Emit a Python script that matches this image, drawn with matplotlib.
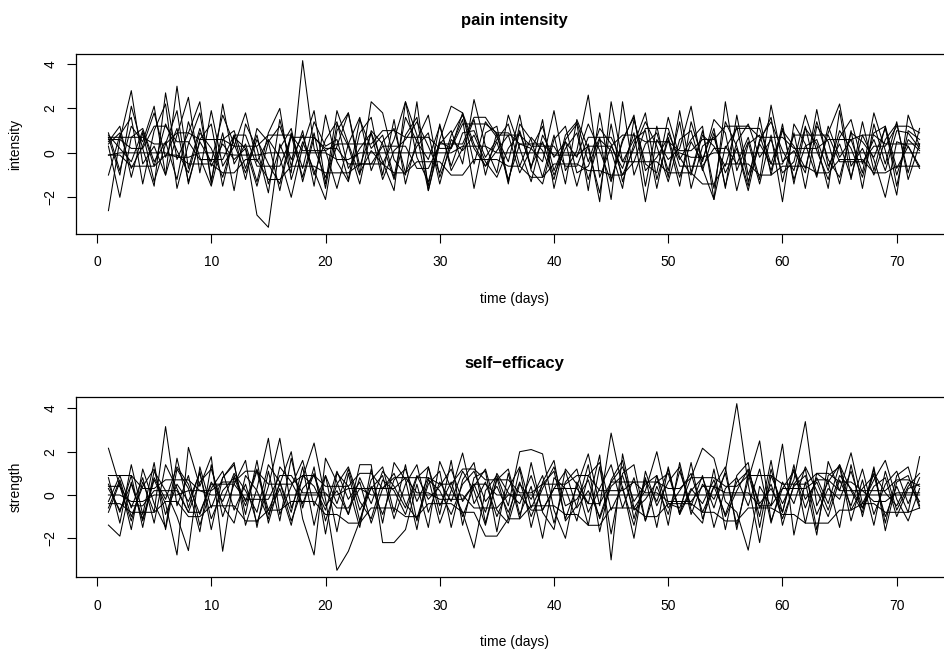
import numpy as np
import matplotlib
matplotlib.use("Agg")
import matplotlib.pyplot as plt

plt.rcParams["font.family"] = ["Liberation Sans", "DejaVu Sans"]

days = np.arange(1, 73)

# daily pain intensity per subject (standardised)
pain = [
    [-2.6, 0.6, 2.8, -0.5, 0.3, -1.0, 3.0, -0.7, 1.1, -0.6, 0.4, -0.3,
     0.2, -2.8, -3.35, 0.4, -0.9, 4.15, 0.2, -1.1, 0.3, 1.8, -0.9, 0.1,
     -0.5, 0.6, 2.3, -0.2, -1.3, 0.5, 0.2, 1.8, 0.4, -0.6, 0.1, 0.8,
     -0.9, 0.2, -0.4, 1.9, -0.8, 0.1, 2.6, -1.1, 0.3, -0.7, 0.9, -2.2,
     0.6, -0.3, 0.2, 2.1, -0.7, -2.1, 0.3, -0.5, 0.7, -1.2, 2.15, -0.4,
     0.1, -0.9, 1.95, -0.6, 0.4, -1.1, 0.8, -0.3, -2.0, 0.5, 0.3, -0.7],
    [0.9, -0.8, 1.2, 0.5, 2.1, -1.0, 0.8, 2.5, -0.9, 1.9, -0.6, 0.3,
     1.8, -0.4, 0.6, -0.2, -2.0, 0.3, 1.9, -1.4, 1.9, 0.4, -1.0, 2.3,
     1.8, -0.3, -1.0, 2.3, -1.7, 0.4, 1.0, -0.5, 2.4, 0.3, -0.9, 1.7,
     0.2, -1.3, 0.8, -0.2, 0.5, -1.5, 0.4, -2.2, 2.3, -0.4, 0.6, 1.0,
     -1.6, 0.9, -0.3, 0.6, 1.2, -2.1, 2.3, -0.8, 0.5, -1.4, 0.8, -2.2,
     1.3, 0.4, -1.1, 1.2, -0.2, 0.6, -0.9, 1.8, 0.1, -1.9, 1.7, 0.3],
    [0.7, -1.0, 2.1, 0.2, -1.5, 2.7, -0.3, 0.9, 2.3, -1.4, 2.2, -0.5,
     0.4, -1.3, 0.9, 2.0, -1.2, 0.5, -0.8, -2.1, 1.0, 1.8, -0.6, 0.9,
     -0.4, -1.7, 2.3, 0.8, -1.7, 0.6, 2.1, 1.8, -0.5, 1.4, 0.7, -0.4,
     1.7, -0.8, -1.4, 0.6, 1.2, -0.9, -0.6, 0.7, -2.1, 2.3, -1.0, 0.4,
     0.9, -0.8, 1.4, -1.6, 0.3, 0.7, -0.9, 0.2, -1.7, 0.6, 1.4, 0.1,
     -0.8, 1.2, -1.0, 0.9, 2.2, -0.6, 0.2, -1.0, 0.6, 1.3, -0.9, 1.1],
    [0.3, -2.0, 0.7, 1.1, -0.4, 0.5, -1.2, 1.4, -0.2, -1.5, 0.6, 1.0,
     -0.7, 0.8, -1.4, 0.2, 1.1, -1.3, 0.7, 0.1, -1.6, 0.4, 1.6, -0.8,
     0.5, 1.1, -0.9, 0.3, 0.9, -1.4, 0.6, 0.1, 0.8, -0.4, -1.1, 0.2,
     0.9, -0.6, 0.5, -1.0, 0.2, 0.9, -1.2, 0.6, 0.1, -1.6, 1.5, -0.5,
     -0.9, 1.6, -0.2, -1.0, 0.8, 0.3, -0.6, 1.2, -1.3, 0.4, -0.5, 1.1,
     -1.2, 0.3, 0.6, -0.8, 1.0, 0.2, -1.1, 0.9, 1.2, -0.7, 0.3, -0.6],
    [0.7, 0.7, 0.7, 0.7, 0.4, 0.4, 0.9, 0.9, 0.6, 0.6, 0.6, 0.3,
     0.3, 0.3, 0.8, 0.8, 0.8, 0.1, 0.1, 0.1, 0.4, 0.4, 0.4, 0.4,
     1.0, 1.0, 0.7, 0.7, 0.7, 0.2, 0.2, 1.3, 1.3, 1.3, 0.9, 0.9,
     0.4, 0.4, 0.4, -0.1, -0.1, -0.1, 0.3, 0.3, 0.3, 0.8, 0.8, 0.5,
     0.5, 0.5, 0.1, 0.1, 0.6, 0.6, 1.2, 1.2, 1.2, 0.7, 0.7, 0.7,
     0.2, 0.2, 0.2, 0.6, 0.6, 0.6, 0.8, 0.8, 0.4, 0.4, 0.4, 0.4],
    [-0.1, -0.1, -0.6, -0.6, -0.6, -0.1, -0.1, -0.5, -0.5, -0.5, -0.9, -0.9,
     -0.3, -0.3, -1.2, -1.2, -0.6, -0.6, -0.6, -0.9, -0.9, -0.9, -0.5, -0.5,
     -0.5, -0.9, -0.9, -0.4, -0.4, -0.4, -1.0, -1.0, -0.3, -0.3, -0.3, -0.6,
     -0.6, -1.1, -1.1, -0.5, -0.5, -0.5, -0.8, -0.8, -1.0, -1.0, -0.4, -0.4,
     -0.4, -0.9, -0.9, -0.9, -1.4, -1.4, -0.5, -0.5, -0.5, -1.0, -1.0, -0.6,
     -0.6, -0.6, -0.9, -0.9, -0.3, -0.3, -0.3, -0.9, -0.9, -0.6, -0.6, -0.6],
    [-0.1, 0.0, 0.0, 0.0, 0.0, 0.0, -0.2, -0.2, 0.0, 0.0, 0.0, -0.1,
     -0.1, -0.1, 0.0, 0.0, 0.0, 0.0, 0.0, 0.0, -0.3, -0.3, 0.0, 0.0,
     0.0, 0.0, 0.0, 0.0, 0.0, 0.0, 0.0, 0.3, 0.3, 0.3, 0.0, 0.0,
     0.0, 0.0, 0.0, 0.0, 0.0, 0.0, 0.0, 0.0, 0.0, 0.0, 0.0, 0.0,
     0.0, 0.0, 0.0, -0.2, -0.2, 0.0, 0.0, 0.0, 0.0, 0.0, 0.0, 0.0,
     0.0, 0.0, 0.0, 0.0, 0.0, 0.0, 0.0, 0.0, 0.0, 0.0, 0.0, 0.0],
    [0.6, 0.6, 0.2, 0.2, 1.2, 1.2, 0.5, 0.5, -0.3, -0.3, -0.3, 0.8,
     0.8, -0.6, -0.6, -0.6, 0.7, 0.7, 0.7, 0.2, 0.2, -0.5, -0.5, -0.5,
     0.3, 0.3, 0.3, -0.7, -0.7, 0.4, 0.4, 0.4, 1.6, 1.6, 0.8, 0.8,
     0.8, 0.3, 0.3, 0.3, -0.6, -0.6, 0.7, 0.7, 0.7, -0.4, -0.4, 1.1,
     1.1, 1.1, -0.6, -0.6, -0.6, 0.2, 0.2, 1.1, 1.1, 1.1, -0.5, -0.5,
     0.8, 0.8, 0.8, 0.8, -0.4, -0.4, -0.4, 0.3, 0.3, 1.2, 1.2, 0.9],
    [0.8, 0.2, -0.4, 1.0, -0.6, 1.3, 0.1, -0.9, 0.9, 0.2, -1.1, 0.7,
     0.2, -1.5, 0.5, 1.2, -0.3, 0.8, -1.0, 0.6, 1.4, -0.7, 0.2, 0.9,
     -1.2, 0.1, 0.6, 1.4, 0.3, -0.9, 0.8, 1.7, 0.2, -0.6, 0.5, -1.2,
     0.4, 0.2, 1.2, -0.8, 0.5, -0.2, 1.3, 0.1, -1.3, 0.6, 1.6, -0.8,
     -0.2, 0.7, -1.1, 0.5, -0.4, 1.5, 0.9, -1.7, 0.4, 0.8, -0.8, 1.0,
     0.3, -0.7, 1.4, -0.3, -1.1, 0.9, 0.5, -0.2, 1.1, -1.0, 0.6, 0.1],
    [0.4, 0.9, -0.7, 0.3, 1.8, -0.2, 1.1, -1.3, 0.5, -0.4, 1.7, 0.4,
     -0.9, 0.6, -0.5, -1.4, 0.9, -0.7, 1.4, 0.3, 0.6, -1.2, 1.5, 0.2,
     0.8, -1.1, 1.6, 0.5, -0.3, 1.2, -0.6, 0.9, 1.0, -0.2, 0.6, 1.3,
     -0.6, 0.7, 0.1, -1.2, 0.8, 1.4, -0.4, 1.1, 0.4, -1.0, 0.2, 1.4,
     0.3, -1.3, 0.6, 1.0, -0.8, 0.9, -1.5, 0.5, 1.3, -0.2, 0.6, -0.9,
     -0.4, 1.7, 0.1, -1.2, 0.7, 1.5, -0.5, 0.6, -0.8, 1.0, 0.9, 0.2],
    [-1.0, 0.8, 1.6, -1.4, 1.0, 2.2, -1.6, 0.4, 1.8, -1.2, 0.9, -1.7,
     1.3, 0.2, -1.8, 1.5, -0.6, 1.0, -1.5, 1.7, -0.4, -1.3, 0.9, 1.6,
     -1.0, 1.5, -1.4, 0.6, 1.7, -1.1, 0.3, 1.5, -1.6, 0.9, 1.2, -1.3,
     1.0, -0.7, 1.5, -1.6, 0.6, 1.3, -1.7, 1.8, -1.2, 0.5, 1.7, -1.5,
     1.2, -1.1, 1.9, -0.9, 1.0, -1.6, 1.4, 0.3, -1.5, 1.6, -1.0, 1.3,
     -1.4, 1.1, 0.4, -1.6, 1.9, -1.2, 1.4, -0.8, 1.2, -1.5, 1.0, 0.6],
    [0.5, 1.2, -1.1, 0.9, -1.3, 0.4, 1.9, -1.4, 0.6, 1.3, -1.5, 0.8,
     -1.2, 1.1, 0.5, -1.7, 0.8, -1.1, 0.9, -1.6, 1.3, 0.3, -1.4, 1.0,
     0.4, -1.2, 0.8, 1.6, -1.5, 1.3, -0.8, 0.2, 1.5, -1.0, 0.9, -1.4,
     1.3, 0.6, -1.1, 0.8, -1.4, 1.5, 0.2, -1.8, 1.3, -1.3, 0.4, 1.8,
     -1.2, 0.6, -1.5, 1.4, -0.3, 1.1, -1.6, 1.7, -1.0, 0.5, 1.6, -1.3,
     0.9, -1.6, 1.2, 0.5, -1.4, 1.0, -1.6, 1.3, -0.5, 1.4, -1.2, 0.4],
]

# daily self-efficacy per subject (standardised)
efficacy = [
    [2.16, 0.4, -1.2, 0.6, -0.8, 3.16, -0.5, 0.9, -1.4, 0.3, 1.1, -0.7,
     0.5, -1.3, 0.4, 2.62, -0.6, 0.8, 2.4, -0.2, -3.48, -2.6, -1.2, 0.4,
     -0.9, 0.7, 1.2, -0.3, 0.8, -1.3, 0.2, 1.94, -0.4, 0.6, -1.0, 0.3,
     1.3, -0.6, 0.5, 1.1, -1.1, 0.4, 1.9, -0.5, 2.86, 0.3, -1.4, 0.7,
     -0.3, 1.2, -0.9, 0.2, 0.8, -0.6, 1.1, 4.22, 0.5, -2.2, 0.9, -0.4,
     0.7, 3.39, -0.5, 0.6, 1.4, -0.7, 0.3, 0.9, -1.0, 0.4, -0.8, 1.77],
    [-1.39, -1.9, 0.6, -1.2, 0.7, -0.4, -2.77, 2.2, 0.4, 1.77, -2.6, 0.9,
     -0.3, 1.2, -0.7, 0.5, 2.0, -1.1, -2.77, 1.7, 0.6, -0.9, 1.4, 1.4,
     -2.2, -2.2, -1.6, 0.5, -1.5, 1.55, 0.3, -0.8, -2.45, 0.2, 0.9, -0.5,
     2.0, 2.1, 1.9, -0.7, -2.0, 0.6, -0.4, 1.85, -3.0, 1.9, -0.6, 0.2,
     2.0, -0.4, -0.6, 0.8, 2.16, 1.7, -0.3, -0.8, -2.55, 0.4, -0.5, 2.35,
     -1.85, 0.6, -1.85, 1.55, 0.2, 1.95, -0.4, 0.7, 1.6, -0.2, -1.2, 0.3],
    [0.5, -0.8, 0.9, -1.5, 1.1, 0.2, -1.0, -2.57, 1.3, -0.6, 0.8, 1.5,
     -1.4, 0.3, 2.62, -0.9, 0.4, 1.6, -0.5, 0.9, -0.4, 1.2, -0.7, 0.3,
     0.9, -1.1, 0.5, 1.4, -0.8, 0.6, -0.3, 1.1, 0.2, -1.4, 0.7, 1.2,
     -0.9, 0.4, -2.0, 0.8, 0.3, -1.2, 0.9, 1.5, -0.7, 0.4, -2.0, 1.1,
     -0.5, 0.6, 1.3, -0.9, 0.5, -0.2, 1.0, -1.4, 0.7, 2.5, -1.2, 0.3,
     1.1, -0.6, 0.8, -0.4, 1.4, 0.2, -0.8, 1.3, -1.65, 0.6, 0.9, -0.6],
    [-0.3, 0.9, -0.6, 0.8, -1.3, 1.4, 0.3, -0.8, 0.6, 1.2, -0.5, -1.3,
     0.9, 0.2, -1.1, 1.3, 0.6, -0.4, 1.0, -1.2, 0.5, 1.3, -0.3, -1.1,
     0.7, 0.2, -0.9, 0.8, 1.3, -0.5, 0.6, -1.0, 0.4, 1.2, -0.7, -1.3,
     0.5, -0.2, 0.9, -1.3, 0.6, 1.2, -0.8, 0.3, 1.4, -0.6, 0.8, -1.2,
     0.4, -0.9, 1.1, -0.5, 0.9, -1.5, 0.3, 0.8, -0.5, 1.2, -1.3, 0.6,
     -0.4, 1.3, 0.2, -1.0, 0.7, -0.5, 1.2, -0.9, 0.5, 1.1, -0.4, 0.8],
    [0.9, 0.9, 0.9, 0.3, 0.3, 0.7, 0.7, 0.7, 0.2, 0.2, 0.6, 0.6,
     1.1, 1.1, 0.5, 0.5, 0.5, 0.9, 0.9, 0.4, 0.4, 0.4, 1.0, 1.0,
     0.3, 0.3, 0.8, 0.8, 0.8, 0.5, 0.5, 1.2, 1.2, 0.7, 0.7, 0.7,
     0.1, 0.1, 0.5, 0.5, 0.5, 0.9, 0.9, 0.2, 0.2, 0.2, 0.6, 0.6,
     0.6, 0.3, 0.3, 0.8, 0.8, 0.8, 0.4, 0.4, 0.9, 0.9, 0.9, 0.5,
     0.5, 0.5, 1.0, 1.0, 0.6, 0.6, 0.2, 0.2, 0.2, 0.7, 0.7, 0.4],
    [-0.4, -0.4, -0.8, -0.8, -0.8, -0.3, -0.3, -1.0, -1.0, -0.5, -0.5, -0.5,
     -1.2, -1.2, -0.7, -0.7, -0.3, -0.3, -0.3, -0.9, -0.9, -1.3, -1.3, -0.6,
     -0.6, -0.6, -1.0, -1.0, -0.4, -0.4, -0.4, -0.8, -0.8, -1.9, -1.9, -1.1,
     -1.1, -0.5, -0.5, -0.5, -0.9, -0.9, -1.4, -1.4, -0.6, -0.6, -0.6, -1.0,
     -1.0, -0.4, -0.4, -0.4, -0.8, -0.8, -1.2, -1.2, -0.6, -0.6, -0.6, -0.9,
     -0.9, -1.3, -1.3, -1.3, -0.7, -0.7, -0.4, -0.4, -0.8, -0.8, -0.8, -0.6],
    [0.0, 0.0, -0.3, -0.3, 0.0, 0.0, 0.0, 0.2, 0.2, 0.0, 0.0, 0.0,
     0.0, 0.0, 0.0, 0.0, 0.0, 0.0, 0.0, 0.0, 0.0, 0.3, 0.3, 0.0,
     0.0, 0.0, 0.0, 0.0, 0.0, 0.0, 0.0, 0.0, -0.6, -0.6, -0.6, 0.0,
     0.0, 0.0, 0.0, 0.0, 0.0, 0.0, 0.0, 0.0, 0.0, 0.0, 0.0, 0.0,
     0.0, 0.0, 0.0, 0.0, 0.0, 0.0, 0.0, 0.0, 0.0, 0.0, 0.0, 0.0,
     0.0, 0.0, 0.0, 0.0, 0.0, 0.0, 0.0, 0.0, 0.0, 0.0, 0.0, 0.0],
    [0.3, -0.7, 0.5, -1.1, 0.8, -0.2, 1.3, 0.5, -0.9, 0.6, -0.3, 1.0,
     0.2, -0.8, 1.4, 0.6, -1.2, 0.3, 0.9, -0.5, 0.2, -0.9, 0.8, -0.4,
     1.1, 0.4, -0.6, 0.9, -0.2, 0.4, 1.2, -0.3, 0.5, -0.8, 1.0, 0.1,
     -0.4, 0.9, -0.7, 0.3, 1.1, -0.6, 0.2, -1.0, 0.6, 1.3, -0.3, 0.5,
     0.9, -0.6, 0.2, 1.0, -0.8, 0.4, -0.9, 0.6, 1.1, -0.4, 0.3, -0.8,
     1.2, -0.2, 0.6, -0.7, 0.9, 0.3, -0.6, 1.0, 0.1, -0.5, 0.6, -0.3],
    [0.4, 0.4, -0.5, -0.5, 0.2, 0.2, 0.2, -0.8, -0.8, 0.5, 0.5, 0.5,
     -0.2, -0.2, -0.2, 0.9, 0.9, 0.1, 0.1, 0.1, -0.6, -0.6, 0.3, 0.3,
     0.3, 0.8, 0.8, 0.1, 0.1, -0.2, -0.2, -0.2, 0.5, 0.5, 0.0, 0.0,
     0.0, -0.7, -0.7, 0.3, 0.3, 0.3, -0.4, -0.4, 0.6, 0.6, 0.6, 0.1,
     0.1, -0.3, -0.3, -0.3, 0.4, 0.4, 0.1, 0.1, 0.1, -0.5, -0.5, 0.3,
     0.3, 0.3, 0.7, 0.7, 0.2, 0.2, 0.2, -0.3, -0.3, 0.1, 0.1, 0.1],
    [-0.6, 0.7, -1.0, 0.4, 1.2, -0.9, 0.5, -0.3, 1.0, -1.1, 0.2, 0.8,
     -0.5, 1.1, -0.9, 0.3, -1.4, 0.9, 0.4, -0.7, 1.1, -0.2, 0.6, -1.3,
     0.3, 1.0, -0.4, -1.1, 0.7, 0.2, -0.9, 0.5, 1.1, -0.3, 0.4, -0.8,
     0.6, -1.0, 0.3, 1.3, -0.5, -0.2, 0.7, -1.1, 0.4, 0.9, -0.7, -0.2,
     0.6, 1.0, -0.8, 0.3, -0.4, 0.7, -1.0, 0.2, 1.2, -0.6, 0.5, -1.1,
     0.4, 0.9, -0.9, 0.3, -0.2, 1.1, -0.6, 0.4, 0.8, -1.0, 0.3, 0.5],
    [0.8, -1.3, 1.4, -0.9, 1.5, -1.6, 1.2, 0.3, -1.7, 1.4, -1.0, 0.5,
     1.6, -1.5, 1.1, -1.2, 1.7, -0.6, 1.3, -1.8, 1.0, 0.4, -1.5, 1.2,
     -1.3, 1.5, 0.7, -1.6, 1.3, -0.9, 1.6, -1.4, 0.8, 1.1, -1.7, 1.0,
     -1.1, 1.5, -0.8, -1.6, 1.2, 0.5, -1.4, 1.3, -1.8, 1.0, 1.4, -1.2,
     0.9, -1.4, 1.5, -0.7, -1.3, 1.2, -1.6, 0.9, 1.5, -1.5, 1.2, -0.8,
     1.4, -1.3, 1.0, 0.6, -1.5, 1.4, -1.0, 1.2, -1.3, 0.9, 1.3, -0.5],
    [-0.8, 0.6, -1.6, 1.2, -0.4, -1.5, 1.7, -0.6, 1.1, -1.6, 0.8, 1.4,
     -0.9, 1.6, -1.3, 0.6, -0.8, 1.3, -1.4, 0.9, -1.7, 1.0, -1.2, 0.7,
     1.3, -0.8, 1.4, -1.2, 0.5, 1.1, -1.5, 0.7, 1.5, -1.3, 0.8, -1.1,
     1.2, -1.5, 0.6, 1.6, -1.2, -0.5, 1.4, -1.7, 0.7, 1.6, -1.1, 0.8,
     -1.5, 1.3, -0.9, 1.5, -1.1, 0.4, 1.3, -1.6, 1.0, -1.0, 1.6, -1.4,
     0.5, 1.2, -1.6, 0.9, 1.3, -1.2, 0.7, -1.4, 1.1, -0.7, 0.4, 1.0],
]

panels = [
    (pain, "pain intensity", "intensity"),
    (efficacy, "self\u2212efficacy", "strength"),
]
yticks = [-2, 0, 2, 4]
xticks = [0, 10, 20, 30, 40, 50, 60, 70]


def r_limits(lo, hi):
    """Axis range padded by 4% on each side, like base R graphics."""
    pad = 0.04 * (hi - lo)
    return lo - pad, hi + pad


fig = plt.figure(figsize=(9.44, 6.51), dpi=100)
# right edge of the frame runs past the figure border
positions = [[0.0805, 0.6406, 0.928, 0.2765],
             [0.0805, 0.1137, 0.928, 0.2765]]

for (series, title, ylabel), pos in zip(panels, positions):
    ax = fig.add_axes(pos)
    data = np.array(series)
    for row in data:
        ax.plot(days, row, color="black", lw=0.75)

    ax.set_xlim(*r_limits(days.min(), days.max()))
    ax.set_ylim(*r_limits(data.min(), data.max()))
    ax.set_xticks(xticks)
    ax.set_yticks(yticks)
    ax.tick_params(direction="out", length=6.5, width=0.8, labelsize=10,
                   color="black", pad=9)
    ax.tick_params(axis="y", labelrotation=90, pad=7)
    for lab in ax.get_yticklabels():
        lab.set_va("center")
        lab.set_ha("right")
    for sp in ax.spines.values():
        sp.set_linewidth(0.9)
        sp.set_color("black")

    ax.set_title(title, fontsize=12, fontweight="bold", pad=21)
    ax.set_xlabel("time (days)", fontsize=10, labelpad=16)
    ax.set_ylabel(ylabel, fontsize=10, labelpad=15)

fig.savefig("out.png", dpi=100)
plt.close(fig)
